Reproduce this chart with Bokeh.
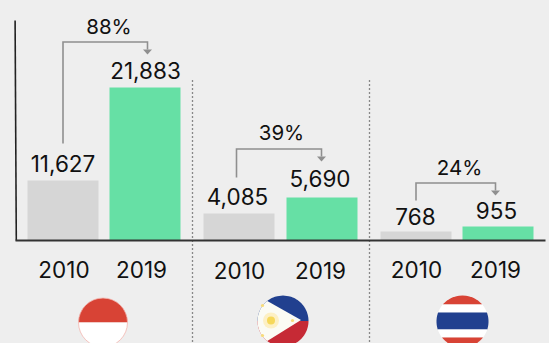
import numpy as np
from bokeh.plotting import figure
from bokeh.models import Range1d, ColumnDataSource
from bokeh.core.properties import value
from bokeh.embed import file_html
from bokeh.resources import INLINE

years = ["2010", "2019", "2010", "2019", "2010", "2019"]
value_labels = ["11,627", "21,883", "4,085", "5,690", "768", "955"]
bar_heights = [60, 153, 27, 43, 9, 14]  # drawn heights
growth_labels = ["88%", "39%", "24%"]

BG, GREY, GREEN = "#eeeeee", "#d6d6d6", "#66e0a5"
INK = "#111111"
FONT = value("Inter")
BASE = 240  # baseline row in the picture


def Y(py):
    return BASE - np.asarray(py, dtype=float)


p = figure(width=549, height=343, output_backend="svg", toolbar_location=None,
           x_range=Range1d(0, 549), y_range=Range1d(BASE - 343, BASE),
           min_border=0, background_fill_color=BG, border_fill_color=BG,
           outline_line_color=None)
p.axis.visible = False
p.grid.visible = False

# bars
bar_left = [27, 109, 203, 286, 380, 462]
bar_width = 71
src = ColumnDataSource(dict(
    left=bar_left,
    right=[b + bar_width for b in bar_left],
    top=bar_heights,
    bottom=[0] * 6,
    color=[GREY, GREEN] * 3,
))
p.quad(left="left", right="right", top="top", bottom="bottom", fill_color="color",
       line_color=None, source=src)

# separators
for x in (192, 369):
    p.line([x, x], Y([80, 343]), line_color="#222222", line_width=1.3, line_dash="1 3")

# axes
p.line([14.6, 15.8], Y([20, 240]), line_color="#222222", line_width=1.6)
p.line([15, 545], [0, 0], line_color="#333333", line_width=2)

# connectors: x from, x to, top row, start row, arrow tip row
conn = [(62.5, 147, 41.5, 143, 54), (236, 321, 148.5, 177, 161), (415.5, 495, 182.5, 200, 195)]
for x0, x1, top, start, tip in conn:
    p.line([x0, x0, x1, x1], Y([start, top, top, tip - 5]), line_color="#8f8f8f", line_width=1.6,
           line_join="miter")
    p.patch([x1 - 4.5, x1 + 4.5, x1], Y([tip - 5, tip - 5, tip]), fill_color="#8f8f8f", line_color=None)


# texts
def label(xs, rows, texts, size="22.5px"):
    p.text(xs, Y(rows), text=texts, text_font=FONT, text_font_size=size, text_color=INK,
           text_align="center", text_baseline="middle")


label([62.5, 145, 237, 319.5, 415, 496], [163, 70, 196, 178, 216, 210], value_labels)
label([108.5, 281, 459], [26, 132, 167], growth_labels, "20.5px")
label([63.5, 141, 239, 320, 416, 495], [269, 269, 270, 270, 269, 269], years)


# flags
def chord_patch(cx, cy, r, r0, r1, color):
    """Piece of the disc between picture rows r0 and r1."""
    rows = np.linspace(r0, r1, 40)
    half = np.sqrt(np.clip(r * r - (rows - cy) ** 2, 0, None))
    xs = np.r_[cx - half, (cx + half)[::-1]]
    ys = np.r_[rows, rows[::-1]]
    p.patch(xs, Y(ys), fill_color=color, line_color=None)


# Indonesia
cx, cy, r = 102.5, 322, 24.5
chord_patch(cx, cy, r, cy - r, cy, "#d84335")
chord_patch(cx, cy, r, cy, cy + r, "#ffffff")
p.circle(cx, Y(cy), radius=r, fill_color=None, line_color="#f3b5ae", line_width=0.8)

# Philippines
cx, cy, r = 282.5, 320.5, 25.5
chord_patch(cx, cy, r, cy - r, cy, "#21408f")
chord_patch(cx, cy, r, cy, cy + r, "#c62a35")
ang = np.radians(np.linspace(128, 232, 30))
tx = np.r_[cx + r * np.cos(ang), 300.5]
ty = np.r_[cy - r * np.sin(ang), 319.5]
p.patch(tx, Y(ty), fill_color="#fbfbf4", line_color=None)
p.circle(270.5, Y(320), radius=8, fill_color="#fdf0c4", line_color=None)
p.circle(270.5, Y(320), radius=4, fill_color="#f6d85a", line_color=None)
p.circle([262, 262, 292], Y([305, 335, 320]), radius=1.6, fill_color="#f8dc78", line_color=None)

# Thailand
cx, cy, r = 462, 321, 26
for r0, r1, c in [(cy - r, 304, "#d84335"), (304, 312, "#ffffff"), (312, 329, "#21408f"),
                  (329, 337, "#ffffff"), (337, cy + r, "#d84335")]:
    chord_patch(cx, cy, r, r0, r1, c)

html = file_html(p, INLINE)
html = html.replace("<head>", f"<head><style>html,body{{margin:0;padding:0;background:{BG};overflow:hidden}}</style>", 1)
open("out.html", "w").write(html)
